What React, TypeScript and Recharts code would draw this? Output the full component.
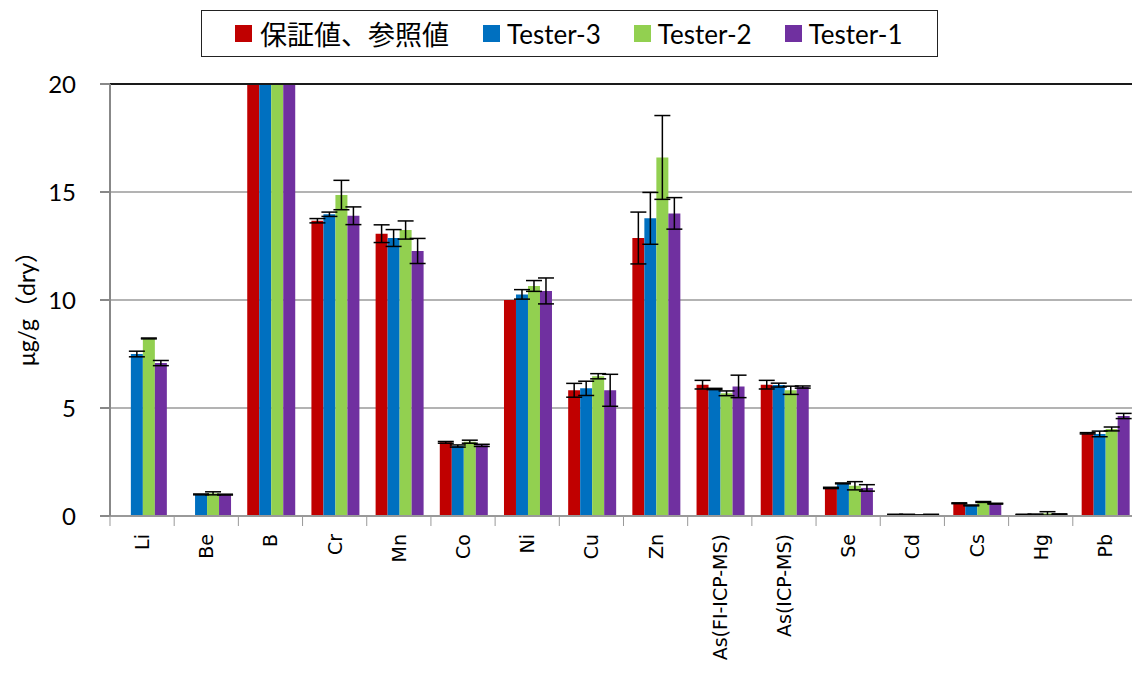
import React from 'react';
import {
  BarChart,
  Bar,
  XAxis,
  YAxis,
  CartesianGrid,
  ErrorBar,
  ReferenceLine,
} from 'recharts';

const categories = [
  'Li', 'Be', 'B', 'Cr', 'Mn', 'Co', 'Ni', 'Cu', 'Zn',
  'As(FI-ICP-MS)', 'As(ICP-MS)', 'Se', 'Cd', 'Cs', 'Hg', 'Pb',
];

const certValues = [null, null, 20, 13.67, 13.07, 3.41, 10.0, 5.82, 12.87, 6.08, 6.08, 1.3, 0.06, 0.59, 0.07, 3.83];
const certErr = [null, null, null, 0.1, 0.41, 0.04, null, 0.32, 1.2, 0.2, 0.2, 0.03, 0.02, 0.02, 0.01, 0.03];

const t3Values = [7.5, 1.0, 20, 13.97, 12.87, 3.24, 10.26, 5.91, 13.78, 5.88, 6.06, 1.51, 0.06, 0.49, 0.07, 3.8];
const t3Err = [0.13, 0.02, null, 0.1, 0.39, 0.05, 0.22, 0.33, 1.2, 0.03, 0.09, 0.02, 0.02, 0.02, 0.02, 0.13];

const t2Values = [8.22, 1.05, 20, 14.86, 13.24, 3.44, 10.65, 6.47, 16.6, 5.68, 5.82, 1.4, 0.04, 0.65, 0.12, 4.03];
const t2Err = [0.02, 0.07, null, 0.68, 0.42, 0.07, 0.25, 0.12, 1.94, 0.11, 0.19, 0.19, 0.01, 0.02, 0.08, 0.09];

const t1Values = [7.08, 0.99, 20, 13.9, 12.27, 3.27, 10.42, 5.82, 14.01, 6.0, 5.97, 1.3, 0.06, 0.57, 0.08, 4.63];
const t1Err = [0.12, 0.02, null, 0.41, 0.58, 0.05, 0.6, 0.74, 0.73, 0.52, 0.05, 0.15, 0.02, 0.02, 0.02, 0.12];

const yTicks = [0, 5, 10, 15, 20];
const yLabel = 'μg/g（dry）';

// note: a data key named "ref" gets spread onto the bar <path> and breaks React, so "cert" it is
const series = [
  { key: 'cert', err: 'certErr', name: '保証値、参照値', color: '#C00000' },
  { key: 't3', err: 't3Err', name: 'Tester-3', color: '#0070C0' },
  { key: 't2', err: 't2Err', name: 'Tester-2', color: '#92D050' },
  { key: 't1', err: 't1Err', name: 'Tester-1', color: '#7030A0' },
];

const data = categories.map((name, i) => ({
  name,
  cert: certValues[i],
  certErr: certErr[i],
  t3: t3Values[i],
  t3Err: t3Err[i],
  t2: t2Values[i],
  t2Err: t2Err[i],
  t1: t1Values[i],
  t1Err: t1Err[i],
}));

const BAND = 64.2;

function renderXTick(props: any) {
  const { x, y, payload, index } = props;
  const top = y - 8;
  return (
    <g key={`xt-${index}`}>
      <line x1={x - BAND / 2} y1={top} x2={x - BAND / 2} y2={top + 10} stroke="#999" />
      {index === categories.length - 1 && (
        <line x1={x + BAND / 2} y1={top} x2={x + BAND / 2} y2={top + 10} stroke="#999" />
      )}
      <text
        x={x}
        y={534}
        transform={`rotate(-90, ${x}, 534)`}
        textAnchor="end"
        dominantBaseline="central"
        fontFamily="'DejaVu Sans', sans-serif"
        fontSize={19}
        fill="#000"
      >
        {payload.value}
      </text>
    </g>
  );
}

function renderYLabel() {
  return (
    <text
      x={26}
      y={303}
      transform="rotate(-90, 26, 303)"
      textAnchor="middle"
      dominantBaseline="central"
      fontFamily="Lato, 'Noto Sans CJK JP', sans-serif"
      fontSize={23}
      fill="#000"
    >
      {yLabel}
    </text>
  );
}

function LegendBox() {
  return (
    <div
      style={{
        position: 'absolute',
        left: 201,
        top: 10,
        boxSizing: 'border-box',
        width: 737,
        height: 47,
        border: '1.5px solid #222',
        background: '#fff',
        display: 'flex',
        alignItems: 'center',
        paddingLeft: 33,
      }}
    >
      {series.map((s, i) => (
        <div key={s.key} style={{ display: 'flex', alignItems: 'center', marginRight: i === 0 ? 34 : 33 }}>
          <span style={{ display: 'inline-block', width: 17, height: 17, background: s.color, marginRight: i === 0 ? 8 : 7 }} />
          <span
            style={{
              fontFamily: i === 0 ? "'Noto Sans CJK JP', sans-serif" : 'Lato, sans-serif',
              fontSize: i === 0 ? 27 : 26,
              color: '#000',
              lineHeight: 1,
              whiteSpace: 'nowrap',
            }}
          >
            {s.name}
          </span>
        </div>
      ))}
    </div>
  );
}

export default function App() {
  return (
    <div
      style={{
        position: 'fixed',
        left: 0,
        top: 0,
        width: 1132,
        height: 700,
        overflow: 'hidden',
        background: '#fff',
      }}
    >
      <BarChart
        width={1140}
        height={700}
        data={data}
        margin={{ top: 84, right: 3, left: 0, bottom: 0 }}
        barCategoryGap="13.8%"
        barGap={0}
      >
        <CartesianGrid vertical={false} stroke="#9a9a9a" strokeWidth={1.5} />
        <XAxis
          dataKey="name"
          interval={0}
          height={184}
          stroke="#999"
          strokeWidth={2}
          tickLine={false}
          tick={renderXTick}
        />
        <YAxis
          width={110}
          domain={[0, 20]}
          ticks={yTicks}
          allowDataOverflow
          stroke="#888"
          strokeWidth={2}
          tickSize={10}
          tickMargin={24}
          tick={{ fill: '#000', fontSize: 24, fontFamily: 'Lato, sans-serif' }}
          label={{ content: renderYLabel }}
        />
        {series.map((s) => (
          <Bar key={s.key} dataKey={s.key} name={s.name} fill={s.color} isAnimationActive={false}>
            <ErrorBar dataKey={s.err} width={8} stroke="#000" strokeWidth={1.5} direction="y" />
          </Bar>
        ))}
        <ReferenceLine y={20} stroke="#1a1a1a" strokeWidth={2} />
      </BarChart>
      <LegendBox />
    </div>
  );
}
